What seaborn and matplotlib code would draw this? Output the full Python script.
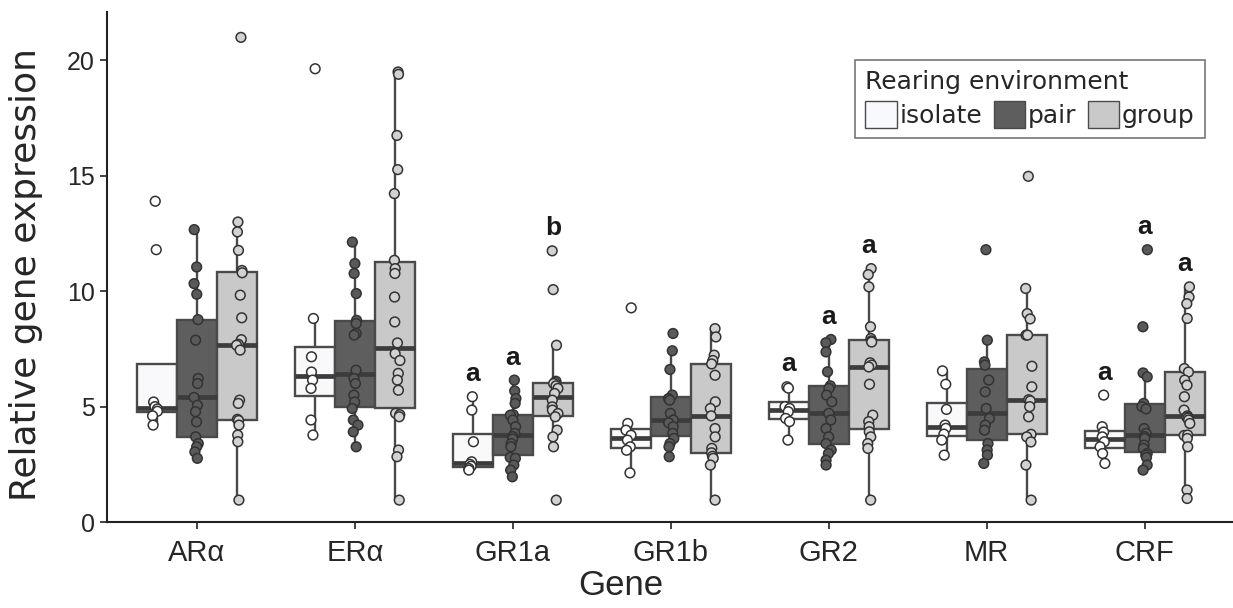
import numpy as np
import pandas as pd
import matplotlib
matplotlib.use("Agg")
import matplotlib.pyplot as plt
from matplotlib.patches import Patch
import seaborn as sns

genes = ["ARα", "ERα", "GR1a", "GR1b", "GR2", "MR", "CRF"]
envs = ["isolate", "pair", "group"]

ARa_isolate = [13.9, 11.8, 5.2, 5.0, 4.9, 4.8, 4.6, 4.2]
ARa_pair = [12.67, 11.05, 10.33, 9.87, 8.77, 7.88, 6.22, 6.0, 5.4, 5.06, 4.78, 4.34, 3.69, 3.4, 3.26, 3.04, 2.76]
ARa_group = [21.0, 13.0, 12.57, 11.77, 10.9, 10.8, 9.83, 8.85, 7.9, 7.7, 7.66, 7.45, 5.28, 5.14, 4.45, 4.4, 4.2, 3.77, 3.48, 0.95]

ERa_isolate = [19.64, 8.82, 7.16, 6.5, 6.15, 5.79, 4.42, 3.77]
ERa_pair = [12.13, 11.2, 10.77, 9.9, 8.74, 8.6, 8.17, 8.1, 6.58, 6.22, 6.0, 5.5, 5.2, 4.92, 4.42, 4.2, 3.91, 3.26]
ERa_group = [19.5, 19.4, 16.75, 15.27, 14.23, 11.34, 10.98, 10.77, 9.75, 8.67, 7.76, 7.3, 7.0, 6.44, 6.15, 5.71, 4.71, 4.65, 4.56, 3.12, 2.83, 0.95]

GR1a_isolate = [5.43, 4.85, 3.48, 2.61, 2.5, 2.42, 2.32, 2.25]
GR1a_pair = [6.15, 5.68, 5.35, 5.14, 4.65, 4.63, 4.42, 4.13, 3.84, 3.7, 3.6, 3.4, 3.26, 2.8, 2.76, 2.47, 2.25, 1.96]
GR1a_group = [11.75, 10.07, 7.66, 6.1, 6.05, 6.0, 5.9, 5.79, 5.57, 5.28, 4.99, 4.85, 4.7, 4.56, 3.98, 3.69, 3.26, 0.95]

GR1b_isolate = [9.28, 4.27, 3.98, 3.76, 3.55, 3.26, 3.11, 2.13]
GR1b_pair = [8.17, 7.42, 6.61, 5.5, 5.35, 5.28, 4.71, 4.42, 4.3, 4.13, 3.84, 3.62, 3.4, 3.26, 2.83]
GR1b_group = [8.38, 8.02, 7.23, 7.0, 6.85, 6.36, 5.21, 4.92, 4.6, 4.05, 3.69, 3.19, 3.0, 2.85, 2.76, 2.47, 0.95]

GR2_isolate = [5.86, 5.8, 5.0, 4.92, 4.78, 4.49, 4.35, 3.55]
GR2_pair = [7.91, 7.77, 7.37, 5.9, 6.51, 5.79, 5.5, 5.21, 4.71, 4.42, 4.05, 3.69, 3.4, 3.12, 2.97, 2.68, 2.47]
GR2_group = [10.98, 10.72, 10.19, 8.46, 7.95, 7.85, 7.8, 6.9, 6.8, 6.72, 5.97, 4.63, 4.35, 4.13, 3.91, 3.69, 3.4, 3.19, 0.95]

MR_isolate = [6.55, 5.97, 4.88, 4.2, 4.06, 3.81, 3.55, 2.9]
MR_pair = [11.8, 7.88, 6.94, 6.8, 6.15, 5.64, 4.92, 4.49, 4.2, 3.98, 3.4, 3.12, 2.9, 2.54]
MR_group = [14.98, 10.12, 9.03, 8.8, 8.1, 8.1, 6.75, 5.86, 5.3, 5.25, 5.0, 4.56, 3.8, 3.69, 3.47, 2.47, 0.95]

CRF_isolate = [5.5, 4.13, 3.9, 3.69, 3.48, 3.26, 2.97, 2.54]
CRF_pair = [11.8, 8.46, 6.46, 6.29, 5.14, 5.0, 4.9, 4.05, 3.84, 3.7, 3.62, 3.33, 3.19, 2.97, 2.9, 2.8, 2.47, 2.25]
CRF_group = [10.19, 9.75, 9.46, 8.82, 6.65, 6.5, 6.15, 5.93, 5.43, 4.85, 4.6, 4.55, 4.5, 4.42, 4.27, 3.75, 3.77, 3.62, 3.26, 1.39, 1.02]

letters_isolate = ["", "", "a", "", "a", "", "a"]
letters_pair = ["", "", "a", "", "a", "", "a"]
letters_group = ["", "", "b", "", "a", "", "a"]

series = {
    "ARα": [ARa_isolate, ARa_pair, ARa_group],
    "ERα": [ERa_isolate, ERa_pair, ERa_group],
    "GR1a": [GR1a_isolate, GR1a_pair, GR1a_group],
    "GR1b": [GR1b_isolate, GR1b_pair, GR1b_group],
    "GR2": [GR2_isolate, GR2_pair, GR2_group],
    "MR": [MR_isolate, MR_pair, MR_group],
    "CRF": [CRF_isolate, CRF_pair, CRF_group],
}
rows = []
for g in genes:
    for e, vals in zip(envs, series[g]):
        for v in vals:
            rows.append((g, e, v))
df = pd.DataFrame(rows, columns=["Gene", "env", "expr"])

sns.set_style("white")
plt.rcParams["font.family"] = ["Liberation Sans", "DejaVu Sans"]

box_colors = {"isolate": "#f8f9fc", "pair": "#5e5e5e", "group": "#c9c9c9"}
pt_colors = {"isolate": "#ffffff", "pair": "#5a5a5a", "group": "#d2d2d2"}

fig = plt.figure(figsize=(12.33, 6.08), dpi=100)
ax = fig.add_axes([0.0868, 0.1414, 0.912, 0.8389])

bw = 0.76
sns.boxplot(data=df, x="Gene", y="expr", hue="env", order=genes, hue_order=envs,
            palette=box_colors, width=bw, gap=0, showfliers=False, showcaps=False,
            linewidth=1.7, linecolor="#4a4a4a",
            medianprops=dict(color="#3c3c3c", linewidth=3.4),
            legend=False, ax=ax)
np.random.seed(3)
sns.stripplot(data=df, x="Gene", y="expr", hue="env", order=genes, hue_order=envs,
              palette=pt_colors, dodge=True, jitter=0.06, size=7,
              linewidth=1.1, edgecolor="#333333", legend=False, ax=ax)

offs = [(i - 1) * bw / 3 for i in range(3)]
all_letters = [letters_isolate, letters_pair, letters_group]
for gi, g in enumerate(genes):
    for ei in range(3):
        lt = all_letters[ei][gi]
        if lt:
            top = max(series[g][ei])
            ax.text(gi + offs[ei], top + 0.45, lt, ha="center", va="bottom",
                    fontsize=19, fontweight="bold", color="#1a1a1a")

ax.set_ylim(0, 22.1)
ax.set_xlim(-0.57, 6.55)
ax.set_yticks([0, 5, 10, 15, 20])
ax.tick_params(axis="both", length=5, width=1.2, color="#222222",
               direction="out", left=True, bottom=True)
ax.tick_params(axis="y", labelsize=18, pad=4)
ax.tick_params(axis="x", labelsize=21, pad=7)
ax.set_xlabel("Gene", fontsize=25, va="top")
ax.xaxis.set_label_coords(0.4565, -0.093)
ax.set_ylabel("Relative gene expression", fontsize=26, family=["DejaVu Sans"], va="center")
ax.yaxis.set_label_coords(-0.072, 0.485)
for s in ["top", "right"]:
    ax.spines[s].set_visible(False)
for s in ["left", "bottom"]:
    ax.spines[s].set_color("#222222")
    ax.spines[s].set_linewidth(1.5)

handles = [Patch(facecolor=box_colors[e], edgecolor="#4a4a4a", linewidth=1.0, label=e) for e in envs]
leg = ax.legend(handles=handles, title="Rearing environment", ncol=3,
                loc="upper right", bbox_to_anchor=(0.976, 0.906), borderaxespad=0,
                prop={"family": "DejaVu Sans", "size": 18},
                title_fontproperties={"family": "DejaVu Sans", "size": 18},
                frameon=True, fancybox=False,
                edgecolor="#555555", handlelength=1.25, handleheight=1.25,
                handletextpad=0.12, columnspacing=0.45, borderpad=0.4,
                labelspacing=0.3)
leg._legend_box.align = "left"
leg.get_frame().set_linewidth(1.2)

fig.savefig("out.png", dpi=100)
